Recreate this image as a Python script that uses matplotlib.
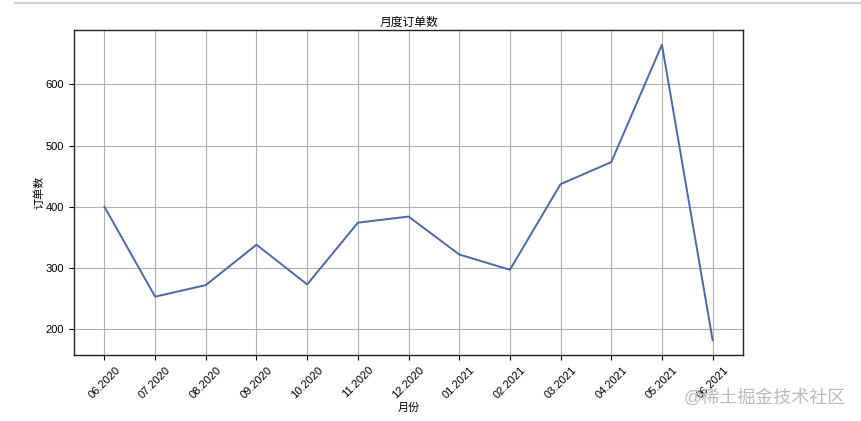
import matplotlib
matplotlib.use("Agg")
import matplotlib.pyplot as plt
from matplotlib.lines import Line2D

plt.rcParams['font.family'] = ['Liberation Sans', 'Noto Sans CJK SC', 'DejaVu Sans']

months = ["06.2020", "07.2020", "08.2020", "09.2020", "10.2020", "11.2020", "12.2020",
          "01.2021", "02.2021", "03.2021", "04.2021", "05.2021", "06.2021"]
orders = [400, 253, 272, 338, 273, 374, 384, 322, 297, 437, 473, 665, 182]

fig = plt.figure(figsize=(8.61, 4.21), dpi=100)
ax = fig.add_axes([0.086, 0.157, 0.777, 0.772])
ax.plot(months, orders, color="#4c68a8", linewidth=1.4)
ax.grid(True, color="#b0b0b0", linewidth=0.8)
ax.set_axisbelow(True)
ax.set_title("月度订单数", fontsize=8.5, pad=3)
ax.set_xlabel("月份", fontsize=8, labelpad=2)
ax.set_ylabel("订单数", fontsize=8, labelpad=1)
ax.tick_params(axis='both', labelsize=8, length=3.5, width=0.8)
ax.set_yticks([200, 300, 400, 500, 600])
plt.setp(ax.get_xticklabels(), rotation=45)
for s in ax.spines.values():
    s.set_color("#222222")
    s.set_linewidth(1.0)

fig.add_artist(Line2D([15 / 861, 1.0], [1 - 3 / 421, 1 - 3 / 421],
                      transform=fig.transFigure, color="#d0d0d0", linewidth=1.5))
fig.text(765 / 861, 1 - 398 / 421, "@稀土掘金技术社区", fontsize=13, color="#bbbbbb",
         ha="center", va="center")

fig.savefig("out.png", dpi=100)
